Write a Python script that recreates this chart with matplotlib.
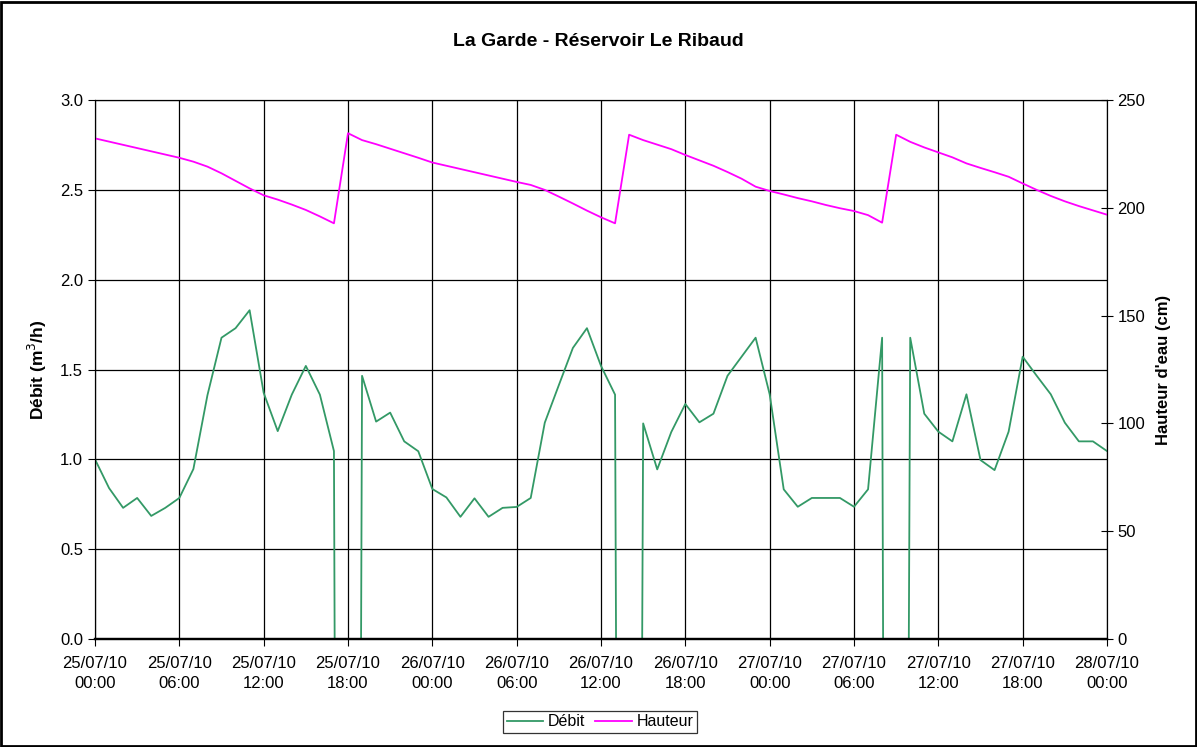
import matplotlib.pyplot as plt
from matplotlib.patches import Rectangle

plt.rcParams['font.family'] = ['Liberation Sans', 'DejaVu Sans']

# Débit (m3/h) - heures depuis le 25/07/10 00:00
debit_t = [0, 1, 2, 3, 4, 5, 6, 7, 8, 9, 10, 11, 12, 13, 14, 15, 16, 17,
           17.05, 18.93,
           19, 20, 21, 22, 23, 24, 25, 26, 27, 28, 29, 30, 31, 32, 33, 34, 35, 36, 37,
           37.07, 38.93,
           39, 40, 41, 42, 43, 44, 45, 46, 47, 48, 49, 50, 51, 52, 53, 54, 55, 56,
           56.07, 57.9,
           58, 59, 60, 61, 62, 63, 64, 65, 66, 67, 68, 69, 70, 71, 72]
debit_v = [1.0, 0.84, 0.73, 0.785, 0.685, 0.73, 0.785, 0.946, 1.357, 1.677, 1.73, 1.83,
           1.37, 1.157, 1.36, 1.52, 1.36, 1.046,
           0, 0,
           1.465, 1.21, 1.26, 1.10, 1.045, 0.835, 0.788, 0.68, 0.783, 0.68, 0.73, 0.735,
           0.785, 1.204, 1.413, 1.62, 1.73, 1.52, 1.36,
           0, 0,
           1.20, 0.944, 1.152, 1.308, 1.206, 1.254, 1.465, 1.571, 1.677, 1.362, 0.833,
           0.736, 0.785, 0.785, 0.785, 0.736, 0.833, 1.677,
           0, 0,
           1.677, 1.254, 1.154, 1.10, 1.362, 0.996, 0.94, 1.154, 1.571, 1.465, 1.362,
           1.204, 1.10, 1.10, 1.046]

# Hauteur d'eau (cm), horaire
hauteur_t = list(range(73))
hauteur_v = [232.2, 230.7, 229.2, 227.7, 226.2, 224.7, 223.2, 221.4, 219.1, 216.0,
             212.5, 209.0, 205.8, 203.8, 201.5, 199.0, 196.0, 192.8, 234.6, 231.4,
             229.5, 227.4, 225.3, 223.2, 221.0, 219.5, 218.0, 216.5, 215.0, 213.5,
             212.0, 210.6, 208.3, 205.2, 202.0, 198.7, 195.6, 192.8, 233.9, 231.4,
             229.3, 227.2, 224.5, 222.0, 219.5, 216.6, 213.5, 209.8, 207.8, 206.2,
             204.5, 203.0, 201.3, 199.8, 198.5, 196.6, 193.1, 233.9, 230.6, 228.0,
             225.7, 223.4, 220.6, 218.5, 216.5, 214.4, 211.3, 208.3, 205.5, 203.0,
             200.8, 198.8, 196.8]

xticks = list(range(0, 73, 6))
xlabels = ['25/07/10\n00:00', '25/07/10\n06:00', '25/07/10\n12:00', '25/07/10\n18:00',
           '26/07/10\n00:00', '26/07/10\n06:00', '26/07/10\n12:00', '26/07/10\n18:00',
           '27/07/10\n00:00', '27/07/10\n06:00', '27/07/10\n12:00', '27/07/10\n18:00',
           '28/07/10\n00:00']

fig = plt.figure(figsize=(11.97, 7.47), dpi=100)
ax = fig.add_axes([95 / 1197, 108 / 747, 1012 / 1197, 539 / 747])
ax2 = ax.twinx()

l1, = ax.plot(debit_t, debit_v, color='#339966', lw=1.3, label='Débit')
l2, = ax2.plot(hauteur_t, hauteur_v, color='#FF00FF', lw=1.3, label='Hauteur')

ax.set_xlim(0, 72)
ax.set_ylim(0, 3.0)
ax2.set_ylim(0, 250)
ax.set_xticks(xticks)
ax.set_xticklabels(xlabels, fontsize=12, linespacing=1.45)
ax.set_yticks([0, 0.5, 1.0, 1.5, 2.0, 2.5, 3.0])
ax.set_yticklabels(['0.0', '0.5', '1.0', '1.5', '2.0', '2.5', '3.0'], fontsize=12)
ax2.set_yticks([0, 50, 100, 150, 200, 250])
ax2.tick_params(axis='y', labelsize=12, direction='inout', length=8)
ax.tick_params(axis='both', direction='out', length=5)
ax.tick_params(axis='x', pad=7)

ax.grid(True, color='black', lw=0.9)
ax.set_axisbelow(True)
for a in (ax, ax2):
    for s in a.spines.values():
        s.set_color('black')
        s.set_zorder(5)
    a.spines['bottom'].set_linewidth(1.6)

ax.set_ylabel('Débit (m$^3$/h)', fontsize=12.5, fontweight='bold', labelpad=8)
ax2.set_ylabel("Hauteur d'eau (cm)", fontsize=12, fontweight='bold', labelpad=8)
fig.suptitle('La Garde - Réservoir Le Ribaud', y=1 - 42 / 747, fontsize=14,
             fontweight='bold', va='center')

leg = fig.legend([l1, l2], ['Débit', 'Hauteur'], loc='center',
                 bbox_to_anchor=(600 / 1197, 1 - 722 / 747), ncol=2, fontsize=11.5,
                 frameon=True, fancybox=False, edgecolor='black', borderpad=0.25,
                 handlelength=2.3, columnspacing=0.6, handletextpad=0.3)
leg.get_frame().set_linewidth(0.9)

fig.patches.append(Rectangle((0.001, 0.001), 0.998, 0.996, transform=fig.transFigure,
                             fill=False, edgecolor='black', lw=2))

fig.savefig('out.png', dpi=100)
